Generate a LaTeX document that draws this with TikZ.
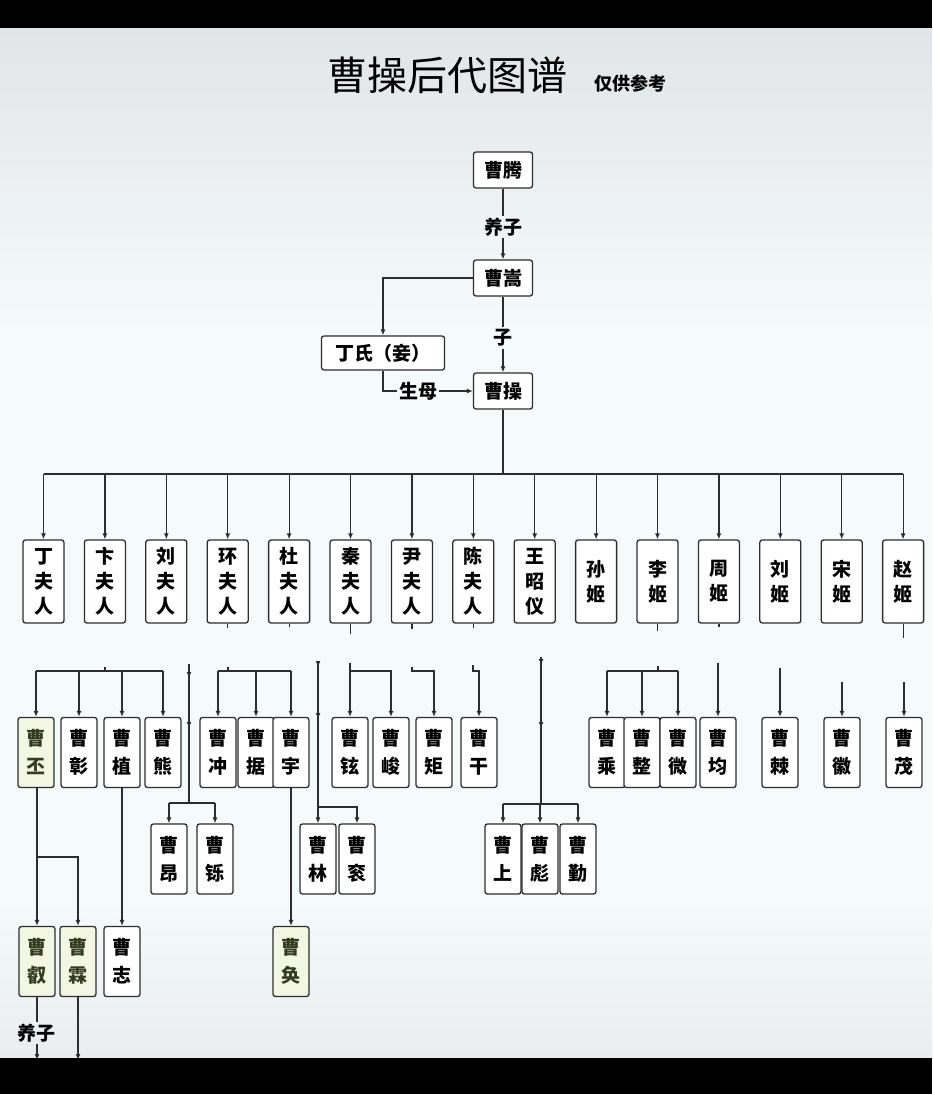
\documentclass[tikz,border=0pt]{standalone}
\usepackage{fontspec}
\setmainfont{Noto Sans CJK SC}
\usepackage{xcolor}
\definecolor{lineclr}{RGB}{45,45,45}
\definecolor{bgtop}{RGB}{225,229,232}
\definecolor{bgmid}{RGB}{245,250,251}
\definecolor{bgbot}{RGB}{233,237,239}
\definecolor{hlfill}{RGB}{242,246,226}
\definecolor{hltext}{RGB}{50,60,30}
\usetikzlibrary{positioning,arrows.meta,decorations.markings}

\begin{document}
\begin{tikzpicture}[x=1pt,y=-1pt,
    box/.style={rectangle,rounded corners=2.5pt,draw=lineclr,line width=1.3pt,
                fill=white,inner sep=0pt,align=center,
                font=\fontsize{19}{25}\selectfont\bfseries},
    topbox/.style={box,minimum width=59pt,minimum height=36pt},
    wife/.style={box,minimum width=41pt,minimum height=83pt},
    kid/.style={box,minimum width=36pt,minimum height=70pt,
                font=\fontsize{19}{28}\selectfont\bfseries},
    heir/.style={kid,fill=hlfill,text=hltext},
    lbl/.style={inner sep=2pt,font=\fontsize{19}{22}\selectfont\bfseries},
    conn/.style={lineclr,line width=1.2pt},
    arr/.style={conn,-{Latex[length=6pt,width=5pt]}},
    heavy/.style={line width=2.1pt},
    tipat/.style={postaction={decorate,decoration={markings,
                  mark=at position #1 with {\arrow{Latex[length=6pt,width=5pt]}}}}}]
  \useasboundingbox (0,0) rectangle (932,1094);
  \fill[bgmid] (0,0) rectangle (932,1094);
  \shade[top color=bgtop,bottom color=bgmid] (0,28) rectangle (932,330);
  \shade[top color=bgmid,bottom color=bgbot] (0,900) rectangle (932,1058);

  \node (title) at (447,75) {\fontsize{40}{40}\selectfont 曹操后代图谱};
  \node[anchor=base west,font=\fontsize{18}{18}\selectfont\bfseries]
    (note) at ([xshift=20pt]title.base east) {仅供参考};

  \node[topbox] (teng) at (503,170) {曹腾};
  \node[lbl] (yz1) at (503,227) {养子};
  \node[topbox] (song) at (503,278) {曹嵩};
  \node[lbl] (zi) at (503,338) {子};
  \node[topbox] (cao) at (503,391) {曹操};
  \node[topbox,minimum width=123pt,minimum height=34pt] (ding) at (383,353) {丁氏（妾）};
  \node[lbl] (sm) at (418,391) {生母};

  \draw[conn] (teng) -- (yz1);
  \draw[arr] (yz1) -- (song);
  \draw[arr] (song.west) -| (ding.north);
  \draw[conn] (song) -- (zi);
  \draw[arr] (zi) -- (cao);
  \draw[conn] (ding.south) |- (sm.west);
  \draw[arr] (sm) -- (cao);

  \foreach \nm/\txt [count=\i from 0] in {dingf/丁\\夫\\人, bianf/卞\\夫\\人,
      liuf/刘\\夫\\人, huanf/环\\夫\\人, duf/杜\\夫\\人, qinf/秦\\夫\\人,
      yinf/尹\\夫\\人, chenf/陈\\夫\\人, wangzy/王\\昭\\仪, sunj/孙\\姬,
      lij/李\\姬, zhouj/周\\姬, liuj/刘\\姬, songj/宋\\姬, zhaoj/赵\\姬}
    \node[wife] (\nm) at ({43.5+61.4*\i},581.5) {\txt};

  \coordinate (bar) at (503,474);
  \draw[conn] (cao) -- (bar);
  \draw[conn] (dingf.north |- bar) -- (zhaoj.north |- bar);
  \foreach \nm in {dingf,bianf,liuf,huanf,duf,qinf,yinf,chenf,wangzy,
                   sunj,lij,zhouj,liuj,songj,zhaoj}
    \draw[arr] (bar -| \nm.north) -- (\nm.north);
  \foreach \nm/\len in {huanf/4,duf/3,qinf/10,yinf/5,chenf/4,lij/7,zhouj/3,zhaoj/14}
    \draw[conn] (\nm.south) -- ++(0,\len);

  \node[heir] (pi) at (36,752.5) {曹\\丕};
  \foreach \nm/\x/\txt in {zhang/79/彰, zhi/122/植, xiong/163/熊, chong/218/冲,
      ju/256/据, yu/291/宇, xuan/350/铉, jun/391/峻, jux/434/矩, gan/479/干,
      cheng/607/乘, zheng/642/整, wei/678/微, junx/718/均, ji/780/棘,
      hui/842/徽, mao/904/茂}
    \node[kid] (\nm) at (\x,752.5) {曹\\\txt};

  \foreach \nm/\x/\txt in {ang/169/昂, shuo/215/铄, lin/318/林, gun/357/衮,
      shang/503/上, biao/540/彪, qinz/578/勤}
    \node[kid] (\nm) at (\x,859) {曹\\\txt};

  \node[heir] (rui) at (37,961.5) {曹\\叡};
  \node[heir] (linz) at (78,961.5) {曹\\霖};
  \node[kid] (zhiz) at (122,961.5) {曹\\志};
  \node[heir] (huanz) at (291,961.5) {曹\\奂};
  \node[lbl] (yz2) at (36,1033) {养子};

  \coordinate (biantop) at (105,667);
  \coordinate (bianbar) at (105,671);
  \draw[conn] (biantop) -- (bianbar);
  \draw[conn] (pi.north |- bianbar) -- (xiong.north |- bianbar);
  \foreach \nm in {pi,zhang,zhi,xiong}
    \draw[arr] (bianbar -| \nm.north) -- (\nm.north);

  \coordinate (liutop) at (189,664);
  \coordinate (liubar) at (189,803);
  \draw[conn,tipat=14pt,tipat=64pt] (liutop) -- (liubar);
  \draw[conn] (ang.north |- liubar) -- (shuo.north |- liubar);
  \foreach \nm in {ang,shuo}
    \draw[arr] (liubar -| \nm.north) -- (\nm.north);

  \coordinate (huantop) at (228,667);
  \coordinate (huanbar) at (228,671);
  \draw[conn] (huantop) -- (huanbar);
  \draw[conn] (chong.north |- huanbar) -- (yu.north |- huanbar);
  \foreach \nm in {chong,ju,yu}
    \draw[arr] (huanbar -| \nm.north) -- (\nm.north);

  \coordinate (dutop) at (318,661);
  \coordinate (dubar) at (318,807);
  \draw[arr,heavy,tipat=6pt,tipat=58pt] (dutop) -- (lin.north);
  \draw[arr] (dubar) -| (gun.north);

  \coordinate (qintop) at (350,663);
  \coordinate (qinbar) at (350,671);
  \draw[arr] (qintop) -- (xuan.north);
  \draw[arr] (qinbar) -| (jun.north);

  \coordinate (yintop) at (412,667);
  \coordinate (yinbar) at (412,671);
  \draw[arr] (yintop) -- (yinbar) -| (jux.north);

  \coordinate (chentop) at (473,665);
  \coordinate (chenbar) at (473,671);
  \draw[arr] (chentop) -- (chenbar) -| (gan.north);

  \coordinate (wangtop) at (541,657);
  \coordinate (wangbar) at (541,804);
  \draw[conn,heavy,tipat=8pt,tipat=71pt] (wangtop) -- (wangbar);
  \draw[conn] (shang.north |- wangbar) -- (qinz.north |- wangbar);
  \foreach \nm in {shang,biao,qinz}
    \draw[arr] (wangbar -| \nm.north) -- (\nm.north);

  \coordinate (litop) at (658,666);
  \coordinate (libar) at (658,671);
  \draw[conn] (litop) -- (libar);
  \draw[conn] (cheng.north |- libar) -- (wei.north |- libar);
  \foreach \nm in {cheng,zheng,wei}
    \draw[arr] (libar -| \nm.north) -- (\nm.north);

  \coordinate (zhoutop) at (718,663);
  \coordinate (liujtop) at (780,668);
  \coordinate (songtop) at (842,682);
  \coordinate (zhaotop) at (904,682);
  \draw[arr] (zhoutop) -- (junx.north);
  \draw[arr] (liujtop) -- (ji.north);
  \draw[arr] (songtop) -- (hui.north);
  \draw[arr] (zhaotop) -- (mao.north);

  \coordinate (pibar) at (37,857);
  \draw[arr] (pi.south -| rui.north) -- (rui.north);
  \draw[arr] (pibar) -| (linz.north);
  \draw[arr] (zhi) -- (zhiz);
  \draw[arr] (yu) -- (huanz);

  \coordinate (ruiout) at (37,1060);
  \coordinate (linout) at (78,1060);
  \draw[conn] (rui.south) -- (rui.south |- yz2.north);
  \draw[arr] (rui.south |- yz2.south) -- (ruiout);
  \draw[arr] (linz.south) -- (linout);

  \fill[black] (0,0) rectangle (932,28);
  \fill[black] (0,1058) rectangle (932,1094);
\end{tikzpicture}
\end{document}
